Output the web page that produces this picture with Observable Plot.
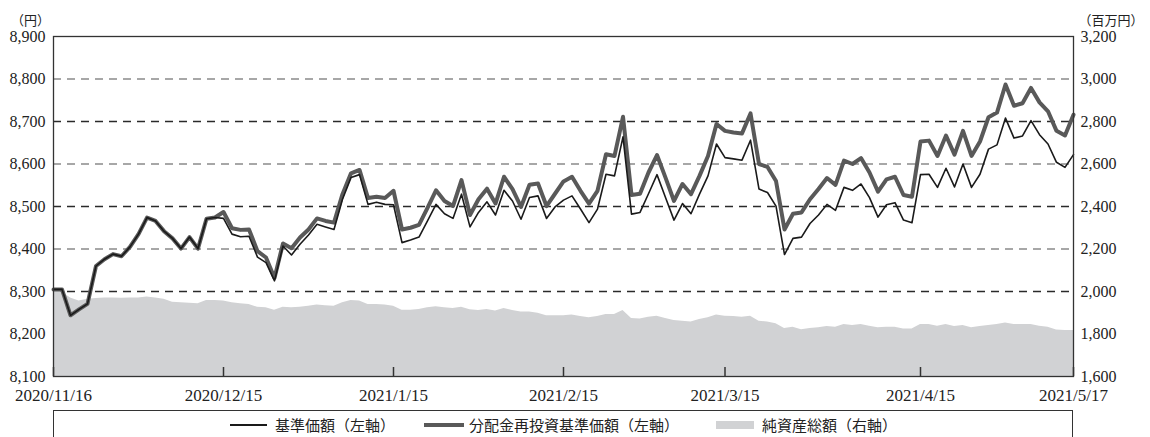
<!DOCTYPE html>
<html lang="ja">
<head>
<meta charset="utf-8">
<script src="https://cdn.jsdelivr.net/npm/d3@7"></script>
<script src="https://cdn.jsdelivr.net/npm/@observablehq/plot@0.6"></script>
<style>
  html, body { margin: 0; padding: 0; background: #fff; }
  body { width: 1150px; height: 437px; position: relative; overflow: hidden;
         font-family: "Liberation Serif", "Noto Sans CJK JP", serif; color: #222; }
  #chart { position: absolute; left: 0; top: 0; }
  #legend { position: absolute; left: 53px; top: 410px; width: 1020px; height: 40px;
            border: 1.5px solid #333; box-sizing: border-box; }
  .lg { position: absolute; font-family: "Noto Sans CJK JP", sans-serif; font-size: 15px;
        line-height: 18px; top: 5px; color: #222; white-space: nowrap; }
  .sw { position: absolute; }
</style>
</head>
<body>
<div id="chart"></div>
<div id="legend">
  <div class="sw" style="left:176px;top:13px;width:37px;height:1.6px;background:#1a1a1a"></div>
  <div class="lg" style="left:221px">基準価額（左軸）</div>
  <div class="sw" style="left:370px;top:12px;width:40px;height:4px;background:#595959"></div>
  <div class="lg" style="left:415px">分配金再投資基準価額（左軸）</div>
  <div class="sw" style="left:662px;top:10px;width:38px;height:8px;background:#d1d2d4"></div>
  <div class="lg" style="left:708px">純資産総額（右軸）</div>
</div>
<script>
// 基準価額（左軸, 円） — business days 2020/11/16 .. 2021/5/17
const basePrice = [
  8305,8305,8244,8258,8271,8360,8376,8388,8383,8405,8435,8474,8466,8442,8425,8401,8428,8401,8471,8474,8472,8435,8429,8430,8381,
  8368,8325,8407,8386,8411,8433,8458,8452,8446,8517,8568,8575,8505,8510,8505,8504,8415,8421,8428,8466,8505,8483,8472,
  8529,8452,8486,8511,8480,8538,8513,8470,8521,8525,8472,8499,8515,8525,8494,8462,8494,8576,8572,8664,8482,8486,8530,8575,
  8521,8468,8507,8483,8529,8572,8647,8615,8612,8609,8656,8541,8533,8501,8387,8425,8428,8460,8480,8505,8491,8545,8538,8553,8521,
  8475,8504,8509,8468,8462,8575,8576,8545,8590,8546,8600,8545,8576,8635,8645,8708,8661,8666,8702,8669,8647,8604,8592,8622
];
// 分配金再投資基準価額（左軸, 円）
const reinvestPrice = [
  8305,8305,8244,8258,8271,8360,8376,8388,8383,8405,8435,8474,8466,8442,8425,8401,8428,8401,8471,8474,8487,8449,8445,8446,8395,
  8380,8332,8413,8402,8427,8446,8472,8466,8462,8529,8578,8586,8520,8523,8520,8537,8446,8450,8457,8497,8538,8513,8501,
  8562,8480,8517,8542,8507,8570,8541,8499,8551,8554,8501,8530,8559,8570,8537,8507,8537,8623,8619,8711,8527,8530,8580,8621,
  8568,8513,8553,8529,8572,8619,8694,8678,8674,8672,8719,8600,8593,8560,8446,8483,8486,8517,8541,8567,8551,8608,8600,8614,8580,
  8535,8564,8570,8527,8523,8653,8655,8619,8667,8622,8678,8619,8653,8710,8721,8787,8737,8743,8779,8745,8724,8678,8667,8716
];
// 純資産総額（右軸, 百万円）
const netAssets = [
  2010,1998,1970,1955,1963,1967,1970,1970,1968,1970,1970,1974,1970,1963,1950,1947,1945,1942,1958,1958,1955,1947,1942,1939,1926,
  1923,1912,1926,1923,1926,1931,1936,1933,1931,1947,1958,1955,1939,1939,1936,1931,1912,1912,1915,1923,1928,1923,1920,
  1926,1914,1911,1915,1908,1920,1911,1904,1904,1898,1886,1886,1886,1889,1882,1876,1882,1892,1892,1911,1873,1871,1879,1884,
  1873,1864,1860,1857,1868,1876,1889,1884,1882,1879,1884,1860,1857,1848,1826,1832,1820,1826,1829,1835,1832,1845,1840,1845,1837,
  1829,1832,1832,1824,1824,1845,1845,1837,1845,1835,1840,1829,1835,1840,1845,1852,1845,1845,1845,1837,1832,1819,1816,1816
];

const xTickIdx = [0, 20, 40, 60, 79, 102, 120];
const xTickLabels = ["2020/11/16", "2020/12/15", "2021/1/15", "2021/2/15", "2021/3/15", "2021/4/15", "2021/5/17"];
const leftTicks = [8100, 8200, 8300, 8400, 8500, 8600, 8700, 8800, 8900];
const rightTicks = [1600, 1800, 2000, 2200, 2400, 2600, 2800, 3000, 3200];
const leftUnit = "（円）";
const rightUnit = "（百万円）";

const yDomain = [leftTicks[0], leftTicks[leftTicks.length - 1]];
const rightDomain = [rightTicks[0], rightTicks[rightTicks.length - 1]];
const toLeft = d3.scaleLinear().domain(rightDomain).range(yDomain);

const rows = basePrice.map((b, i) => ({
  i, base: b, reinvest: reinvestPrice[i], na: toLeft(netAssets[i])
}));
const gridTicks = leftTicks.slice(1, -1);
const fmt = d3.format(",");

const chart = Plot.plot({
  width: 1150,
  height: 406,
  marginTop: 36,
  marginBottom: 30,
  marginLeft: 53,
  marginRight: 77,
  x: { domain: [0, basePrice.length - 1] },
  y: { domain: yDomain },
  style: {
    fontFamily: '"Liberation Serif", "Noto Sans CJK JP", serif',
    fontSize: "16px",
    color: "#222",
    background: "white",
    overflow: "visible"
  },
  marks: [
    Plot.ruleY(gridTicks, {
      y: d => d,
      stroke: d => ((d / 100) % 2 === 0 ? "#8a8a8a" : "#2a2a2a"),
      strokeWidth: 1.3,
      strokeDasharray: "8,6"
    }),
    Plot.areaY(rows, { x: "i", y1: yDomain[0], y2: "na", fill: "#d1d2d4" }),
    Plot.lineY(rows, { x: "i", y: "reinvest", stroke: "#595959", strokeWidth: 4 }),
    Plot.lineY(rows, { x: "i", y: "base", stroke: "#1a1a1a", strokeWidth: 1.6 }),
    Plot.ruleX(xTickIdx, { x: d => d, stroke: "#333", strokeWidth: 1.5, insetTop: 331 }),
    Plot.frame({ stroke: "#333", strokeWidth: 1.3 }),
    Plot.axisY(leftTicks, {
      anchor: "left", tickSize: 0, tickPadding: 8, label: null,
      tickFormat: d => fmt(d), fill: "#222"
    }),
    Plot.axisY(leftTicks, {
      anchor: "right", tickSize: 0, tickPadding: 7, label: null,
      tickFormat: d => fmt(Math.round(toLeft.invert(d))), fill: "#222"
    }),
    Plot.axisX(xTickIdx, {
      anchor: "bottom", tickSize: 0, tickPadding: 12, label: null,
      tickFormat: d => xTickLabels[xTickIdx.indexOf(d)], fill: "#222", fontSize: 17
    }),
    Plot.text([leftUnit], {
      text: d => d, frameAnchor: "top-left", dx: -23, dy: -21,
      textAnchor: "middle", fontSize: 13, fill: "#222",
      fontFamily: '"Noto Sans CJK JP", sans-serif'
    }),
    Plot.text([rightUnit], {
      text: d => d, frameAnchor: "top-right", dx: 5, dy: -21,
      textAnchor: "start", fontSize: 13, fill: "#222",
      fontFamily: '"Noto Sans CJK JP", sans-serif'
    })
  ]
});
document.getElementById("chart").appendChild(chart);
</script>
</body>
</html>
